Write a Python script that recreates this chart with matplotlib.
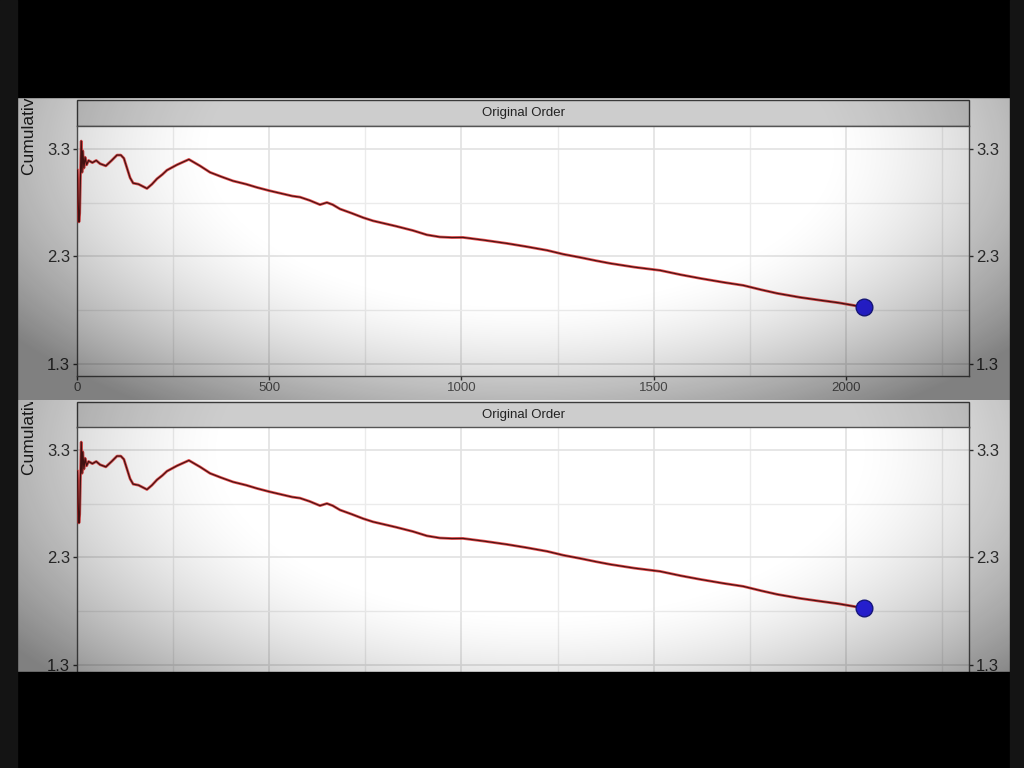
import numpy as np
import matplotlib
matplotlib.use("Agg")
import matplotlib.pyplot as plt
from matplotlib.patches import Rectangle
from matplotlib.transforms import Bbox, TransformedBbox

plt.rcParams['font.family'] = ['Liberation Sans', 'DejaVu Sans']

# cumulative series (trial index, running value)
trial = [1, 3, 5, 7, 9, 11, 13, 15, 18, 21, 25, 30, 40, 50, 60, 75, 90, 104, 114,
         122, 130, 138, 146, 160, 182, 195, 208, 222, 234, 260, 291, 320, 346, 375,
         406, 440, 468, 500, 536, 560, 580, 605, 632, 650, 665, 684, 715, 744, 770,
         788, 830, 874, 910, 944, 975, 1004, 1060, 1119, 1170, 1223, 1265, 1309,
         1350, 1387, 1450, 1517, 1570, 1621, 1680, 1733, 1780, 1821, 1880, 1933,
         1980, 2019, 2047]
cum_value = [3.10, 2.80, 2.62, 2.70, 3.05, 3.37, 3.08, 3.28, 3.12, 3.22, 3.15, 3.19,
             3.17, 3.19, 3.16, 3.14, 3.19, 3.24, 3.24, 3.21, 3.12, 3.03, 2.98, 2.97,
             2.93, 2.97, 3.02, 3.06, 3.10, 3.15, 3.20, 3.14, 3.08, 3.04, 3.00, 2.97,
             2.94, 2.91, 2.88, 2.86, 2.85, 2.82, 2.78, 2.80, 2.78, 2.74, 2.70, 2.66,
             2.63, 2.615, 2.58, 2.54, 2.50, 2.48, 2.475, 2.476, 2.45, 2.42, 2.39,
             2.356, 2.32, 2.29, 2.26, 2.235, 2.20, 2.17, 2.13, 2.096, 2.06, 2.031,
             1.99, 1.957, 1.92, 1.893, 1.87, 1.846, 1.828]
last_point = (2047, 1.828)

facet_title = "Original Order"
y_label = "Cumulative Mean"
y_ticks = [1.3, 2.3, 3.3]
y_minor = [1.8, 2.8]
x_ticks = [0, 500, 1000, 1500, 2000]
x_minor = [250, 750, 1250, 1750, 2250]

W, H = 1024, 768
fig = plt.figure(figsize=(W / 100, H / 100), dpi=100, facecolor='black')

# background (pixel coords, y downwards)
bg = fig.add_axes([0, 0, 1, 1], zorder=-1)
bg.set_xlim(0, W)
bg.set_ylim(H, 0)
bg.axis('off')
bg.add_patch(Rectangle((17, 97), 993, 575, color='#e8e8e8'))
for top in (100, 402):
    bg.add_patch(Rectangle((77, top), 892, 26, facecolor='#cdcdcd',
                           edgecolor='#3a3a3a', lw=1.0))
    bg.text(523, top + 13, facet_title, ha='center', va='center',
            fontsize=9.5, color='#222222')


def px_axes(x0, y0, x1, y1):
    return fig.add_axes([x0 / W, 1 - y1 / H, (x1 - x0) / W, (y1 - y0) / H])


def draw_panel(ax, show_x):
    ax.set_facecolor('white')
    ax.plot(trial, cum_value, color='#e31a1a', lw=2.0, alpha=0.75, zorder=3)
    ax.plot(trial, cum_value, color='#4a1414', lw=0.9, zorder=4)
    ax.plot(*last_point, 'o', ms=12, mfc='#2a22e6', mec='#1a1a8a', mew=1, zorder=5)
    ax.set_xlim(0, 2320)
    ax.set_ylim(1.19, 3.51)
    ax.set_xticks(x_ticks)
    ax.set_xticks(x_minor, minor=True)
    ax.set_yticks(y_ticks)
    ax.set_yticks(y_minor, minor=True)
    ax.set_yticklabels([f'{v:.1f}' for v in y_ticks])
    ax.grid(True, which='major', color='#e2e2e2', lw=1.2)
    ax.grid(True, which='minor', color='#ebebeb', lw=1.0)
    ax.set_axisbelow(True)
    ax.tick_params(axis='y', which='major', left=True, right=True, labelleft=True,
                   labelright=True, length=3, width=1, color='#333333',
                   labelsize=12, labelcolor='#333333', pad=2)
    ax.tick_params(axis='x', which='major', length=3, width=1, color='#333333',
                   labelsize=9.5, labelcolor='#555555', pad=1, labelbottom=show_x)
    ax.tick_params(which='minor', length=0)
    for s in ax.spines.values():
        s.set_color('#555555')
        s.set_linewidth(1.0)


ax1 = px_axes(77, 126, 969, 376)
draw_panel(ax1, True)
ax2 = px_axes(77, 427, 969, 677)
draw_panel(ax2, False)

# y labels, the lower one hidden where the upper picture sits
for start, lo, hi in ((175, 97, 400), (475, 402, 672)):
    t = fig.text(30 / W, 1 - start / H, y_label, rotation=90, ha='center',
                 va='bottom', fontsize=12.5, color='#1e1e1e')
    box = Bbox([[0, 1 - hi / H], [1, 1 - lo / H]])
    t.set_clip_box(TransformedBbox(box, fig.transFigure))
    t.set_clip_on(True)

# vignette overlay + letterbox
ov = fig.add_axes([0, 0, 1, 1], zorder=10)
ov.set_xlim(0, W)
ov.set_ylim(H, 0)
ov.axis('off')
yy, xx = np.mgrid[0:H, 0:W]
r_top = np.sqrt(((xx - 520) / 600.0) ** 2 + ((yy - 150) / 300.0) ** 2)
r_bot = np.sqrt(((xx - 540) / 620.0) ** 2 + ((yy - 450) / 320.0) ** 2)
r = np.where(yy < 400, r_top, r_bot)
alpha = 0.45 * np.clip((r - 0.5) / 0.55, 0, 1) ** 1.5
rgba = np.zeros((H, W, 4))
rgba[..., 3] = alpha
ov.imshow(rgba, extent=(0, W, H, 0), interpolation='bilinear', zorder=1)
ov.add_patch(Rectangle((0, 0), W, 97, color='black', zorder=2))
ov.add_patch(Rectangle((0, 672), W, H - 672, color='black', zorder=2))
ov.add_patch(Rectangle((0, 0), 17, H, color='#141414', zorder=2))
ov.add_patch(Rectangle((1010, 0), 14, H, color='#141414', zorder=2))

fig.savefig('out.png', dpi=100, facecolor='black')
